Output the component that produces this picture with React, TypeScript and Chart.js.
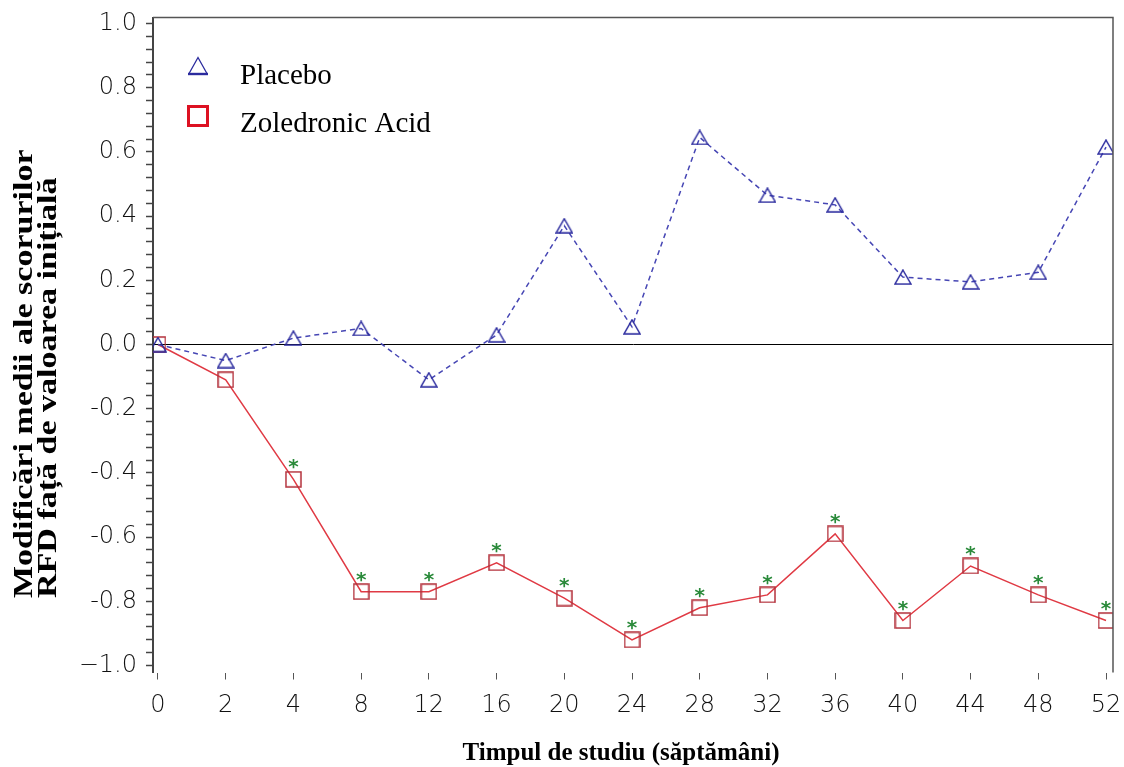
import React, { useEffect, useRef } from 'react';
import { Chart, registerables } from 'chart.js';

Chart.register(...registerables);

// ---- data ----
const weeks = ['0', '2', '4', '8', '12', '16', '20', '24', '28', '32', '36', '40', '44', '48', '52'];
const placebo = [0.0, -0.05, 0.02, 0.05, -0.11, 0.03, 0.37, 0.055, 0.645, 0.465, 0.435, 0.21, 0.195, 0.225, 0.615];
const zoledronic = [0.0, -0.11, -0.42, -0.77, -0.77, -0.68, -0.79, -0.92, -0.82, -0.78, -0.59, -0.86, -0.69, -0.78, -0.86];
const significant = [false, false, true, true, true, true, true, true, true, true, true, true, true, true, true];
const yTickLabels = ['1.0', '0.8', '0.6', '0.4', '0.2', '0.0', '-0.2', '-0.4', '-0.6', '-0.8', '\u22121.0'];
const seriesNames = ['Placebo', 'Zoledronic Acid'];
const xTitle = 'Timpul de studiu (săptămâni)';
const yTitle = ['Modificări medii ale scorurilor', 'RFD față de valoarea inițială'];

const W = 1124;
const H = 767;
const BLUE = '#2b2b9e';
const BLUE_LINE = '#4646b4';
const RED_LINE = '#e03a44';
const RED_MARK = '#b4323c';
const GREEN = '#2a8a3a';
const TICK_FONT = { family: 'DejaVu Sans', size: 24, weight: '200' as any };

function makeTriangle(color: string) {
  const c = document.createElement('canvas');
  c.width = 18;
  c.height = 16;
  const g = c.getContext('2d')!;
  g.strokeStyle = color;
  g.lineWidth = 1.5;
  g.beginPath();
  g.moveTo(9, 1);
  g.lineTo(17, 15);
  g.lineTo(1, 15);
  g.closePath();
  g.stroke();
  return c;
}

function makeSquare(color: string) {
  const c = document.createElement('canvas');
  c.width = 17;
  c.height = 17;
  const g = c.getContext('2d')!;
  g.strokeStyle = color;
  g.lineWidth = 1.5;
  g.strokeRect(1, 1, 15, 15);
  return c;
}

const decorPlugin = {
  id: 'decor',
  afterDatasetsDraw(chart: any) {
    const ctx = chart.ctx;
    const meta = chart.getDatasetMeta(1);
    ctx.save();
    ctx.fillStyle = GREEN;
    ctx.font = 'bold 20px "DejaVu Sans"';
    ctx.textAlign = 'center';
    ctx.textBaseline = 'alphabetic';
    const m = ctx.measureText('*');
    const asc = m.actualBoundingBoxAscent;
    const desc = m.actualBoundingBoxDescent;
    meta.data.forEach((pt: any, i: number) => {
      if (!significant[i]) return;
      const cy = pt.y - 15;
      ctx.fillText('*', pt.x, cy + (asc - desc) / 2);
    });
    ctx.restore();
  },
  afterDraw(chart: any) {
    const ctx = chart.ctx;
    const a = chart.chartArea;
    ctx.save();
    // top and right frame
    ctx.strokeStyle = '#555';
    ctx.lineWidth = 1.5;
    ctx.beginPath();
    ctx.moveTo(a.left, a.top);
    ctx.lineTo(a.right, a.top);
    ctx.lineTo(a.right, a.bottom);
    ctx.stroke();

    // legend symbols
    ctx.strokeStyle = BLUE;
    ctx.lineWidth = 1.3;
    ctx.beginPath();
    ctx.moveTo(188.5, 74.5);
    ctx.lineTo(198, 57.5);
    ctx.lineTo(207.5, 74.5);
    ctx.stroke();
    ctx.lineWidth = 2.4;
    ctx.beginPath();
    ctx.moveTo(188, 74);
    ctx.lineTo(208, 74);
    ctx.stroke();
    ctx.strokeStyle = '#dd1122';
    ctx.lineWidth = 3;
    ctx.strokeRect(188.5, 106.5, 19, 19);

    // legend text
    ctx.fillStyle = '#000';
    ctx.font = '29px "Liberation Serif"';
    ctx.textAlign = 'left';
    ctx.textBaseline = 'alphabetic';
    ctx.fillText(seriesNames[0], 240, 84);
    ctx.fillText(seriesNames[1], 240, 132);

    // x title
    ctx.font = 'bold 25px "Liberation Serif"';
    ctx.textAlign = 'center';
    ctx.fillText(xTitle, 621, 760);

    // y title
    ctx.font = 'bold 34px "Liberation Serif"';
    ctx.textAlign = 'left';
    ctx.save();
    ctx.translate(32, 598);
    ctx.rotate(-Math.PI / 2);
    ctx.scale(1, 0.82);
    ctx.fillText(yTitle[0], 0, 0);
    ctx.restore();
    ctx.save();
    ctx.translate(56, 598);
    ctx.rotate(-Math.PI / 2);
    ctx.scale(1, 0.82);
    ctx.fillText(yTitle[1], 0, 0);
    ctx.restore();
    ctx.restore();
  },
};

export default function App() {
  const ref = useRef<HTMLCanvasElement | null>(null);

  useEffect(() => {
    if (!ref.current) return;
    const tri = makeTriangle(BLUE);
    const sq = makeSquare(RED_MARK);
    const chart = new Chart(ref.current, {
      type: 'line',
      data: {
        datasets: [
          {
            label: seriesNames[0],
            data: placebo.map((v, i) => ({ x: i, y: v })),
            borderColor: BLUE_LINE,
            borderWidth: 1.5,
            borderDash: [5, 4],
            pointStyle: tri as any,
            pointRadius: 8,
            fill: false,
            tension: 0,
          },
          {
            label: seriesNames[1],
            data: zoledronic.map((v, i) => ({ x: i, y: v })),
            borderColor: RED_LINE,
            borderWidth: 1.5,
            pointStyle: sq as any,
            pointRadius: 8,
            fill: false,
            tension: 0,
          },
        ],
      },
      options: {
        animation: false,
        responsive: false,
        devicePixelRatio: 1,
        layout: { padding: { top: 17.5, right: 11, bottom: 0, left: 0 } },
        plugins: { legend: { display: false }, tooltip: { enabled: false } },
        scales: {
          x: {
            type: 'linear',
            min: -0.0738,
            max: 14.103,
            afterBuildTicks: (s: any) => {
              s.ticks = weeks.map((_, i) => ({ value: i }));
            },
            afterFit: (s: any) => {
              s.height = H - 672.5;
              s.paddingLeft = 0;
              s.paddingRight = 0;
            },
            ticks: {
              autoSkip: false,
              maxRotation: 0,
              padding: 12,
              color: '#111',
              font: TICK_FONT,
              callback: (v: any) => weeks[Math.round(Number(v))],
            },
            grid: { drawOnChartArea: false, drawTicks: true, tickLength: 7, color: '#555', tickColor: '#555' },
            border: { display: false },
          },
          y: {
            type: 'linear',
            min: -1.0218,
            max: 1.0187,
            afterBuildTicks: (s: any) => {
              const t = [];
              for (let i = -25; i <= 25; i++) t.push({ value: i / 25 });
              s.ticks = t;
            },
            afterFit: (s: any) => {
              s.width = 153;
              s.paddingTop = 0;
              s.paddingBottom = 0;
            },
            ticks: {
              autoSkip: false,
              padding: 9,
              color: '#111',
              font: TICK_FONT,
              callback: (v: any) => {
                const n = Number(v) * 5;
                if (Math.abs(n - Math.round(n)) > 1e-6) return '';
                return yTickLabels[Math.round(5 - n)];
              },
            },
            grid: {
              drawOnChartArea: true,
              drawTicks: true,
              tickLength: 7,
              tickColor: '#444',
              tickWidth: 1.5,
              lineWidth: 1,
              color: (c: any) => (c.tick && Math.abs(c.tick.value) < 1e-9 ? '#000' : 'rgba(0,0,0,0)'),
            },
            border: { display: true, color: '#444', width: 2 },
          },
        },
      },
      plugins: [decorPlugin],
    });
    return () => chart.destroy();
  }, []);

  return (
    <div style={{ position: 'fixed', left: 0, top: 0, width: W, height: H, background: '#fff' }}>
      <canvas ref={ref} width={W} height={H} style={{ width: W, height: H, display: 'block' }} />
    </div>
  );
}
